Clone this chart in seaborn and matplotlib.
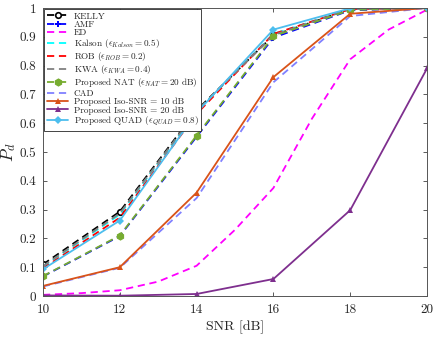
import matplotlib
matplotlib.use("Agg")
import matplotlib.pyplot as plt
import seaborn as sns

snr = [10, 12, 14, 16, 18, 20]
snr_ed = [10, 11, 12, 13, 14, 15, 16, 17, 18, 19, 20]

kelly = [0.110, 0.293, 0.645, 0.905, 0.996, 1.0]
amf = [0.068, 0.208, 0.553, 0.897, 0.992, 1.0]
ed = [0.004, 0.010, 0.020, 0.050, 0.105, 0.230, 0.375, 0.615, 0.822, 0.925, 0.994]
kalson = [0.102, 0.283, 0.640, 0.910, 0.996, 1.0]
rob = [0.096, 0.272, 0.632, 0.910, 0.996, 1.0]
kwa = [0.104, 0.287, 0.642, 0.906, 0.996, 1.0]
nat = [0.069, 0.210, 0.557, 0.902, 0.993, 1.0]
cad = [0.033, 0.098, 0.340, 0.742, 0.972, 1.0]
iso10 = [0.035, 0.100, 0.359, 0.760, 0.980, 1.0]
iso20 = [0.002, 0.001, 0.007, 0.059, 0.298, 0.790]
quad = [0.093, 0.262, 0.636, 0.925, 0.999, 1.0]

yticks = [0, 0.1, 0.2, 0.3, 0.4, 0.5, 0.6, 0.7, 0.8, 0.9, 1]
ytick_labels = ["0", "0.1", "0.2", "0.3", "0.4", "0.5", "0.6", "0.7", "0.8", "0.9", "1"]
xticks = [10, 12, 14, 16, 18, 20]

sns.set_theme(style="ticks")
plt.rcParams["font.family"] = "serif"
plt.rcParams["font.serif"] = ["cmr10", "DejaVu Serif"]
plt.rcParams["mathtext.fontset"] = "cm"
plt.rcParams["axes.formatter.use_mathtext"] = True
plt.rcParams["axes.unicode_minus"] = False

fig = plt.figure(figsize=(4.36, 3.37), dpi=100)
ax = fig.add_axes([43 / 436, 41 / 337, 384 / 436, 288 / 337])

dash = (4, 2.6)
lw = 1.3
series = [
    (snr, kelly, "KELLY", "black", dash, "o", dict(markerfacecolor="white", markeredgecolor="black", markersize=4, markeredgewidth=1.2)),
    (snr, amf, "AMF", "blue", dash, "P", dict(markersize=5, markeredgewidth=0)),
    (snr_ed, ed, "ED", "#ff00ff", dash, None, {}),
    (snr, kalson, r"Kalson ($\epsilon_{Kalson}=0.5$)", "#00ffff", dash, None, {}),
    (snr, rob, r"ROB ($\epsilon_{ROB}=0.2$)", "#ff0000", dash, None, {}),
    (snr, kwa, r"KWA ($\epsilon_{KWA}=0.4$)", "#808080", dash, None, {}),
    (snr, nat, r"Proposed NAT ($\epsilon_{NAT}=20$ dB)", "#77ac30", dash, "h", dict(markersize=6, markeredgewidth=0)),
    (snr, cad, "CAD", "#8080ff", dash, None, {}),
    (snr, iso10, "Proposed Iso-SNR = 10 dB", "#d95319", "", "^", dict(markersize=5, markeredgewidth=0)),
    (snr, iso20, "Proposed Iso-SNR = 20 dB", "#7e2f8e", "", "^", dict(markersize=5, markeredgewidth=0)),
    (snr, quad, r"Proposed QUAD ($\epsilon_{QUAD}=0.8$)", "#4dbeee", "", "D", dict(markersize=4, markeredgewidth=0)),
]

for xs, ys, label, color, ls, marker, mkw in series:
    kw = dict(x=xs, y=ys, ax=ax, color=color, linewidth=lw, label=label)
    if marker:
        kw["marker"] = marker
        kw.update(mkw)
    sns.lineplot(**kw)
    if ls:
        ax.lines[-1].set_dashes(ls)

ax.set_xlim(10, 20)
ax.set_ylim(0, 1)
ax.set_xticks(xticks)
ax.set_xticklabels([str(v) for v in xticks])
ax.set_yticks(yticks)
ax.set_yticklabels(ytick_labels)
ax.tick_params(direction="in", top=True, right=True, length=3, width=0.6,
               labelsize=9.5, colors="#404040", labelcolor="#262626")
ax.tick_params(axis="x", pad=6)
ax.tick_params(axis="y", pad=5)
for s in ax.spines.values():
    s.set_visible(True)
    s.set_color("#555555")
    s.set_linewidth(0.7)

ax.set_xlabel("SNR [dB]", fontsize=10, color="#262626", labelpad=3)
ax.set_ylabel(r"$P_d$", fontsize=12.5, color="#262626")
ax.yaxis.set_label_coords(-0.065, 0.5)

leg = ax.legend(loc="upper left", fontsize=6.6, frameon=True, fancybox=False,
                edgecolor="#262626", framealpha=1, borderpad=0.3,
                labelspacing=0.0, handlelength=2.3, handletextpad=0.6,
                borderaxespad=0.15)
leg.get_frame().set_linewidth(0.6)

fig.savefig("out.png", dpi=100)
